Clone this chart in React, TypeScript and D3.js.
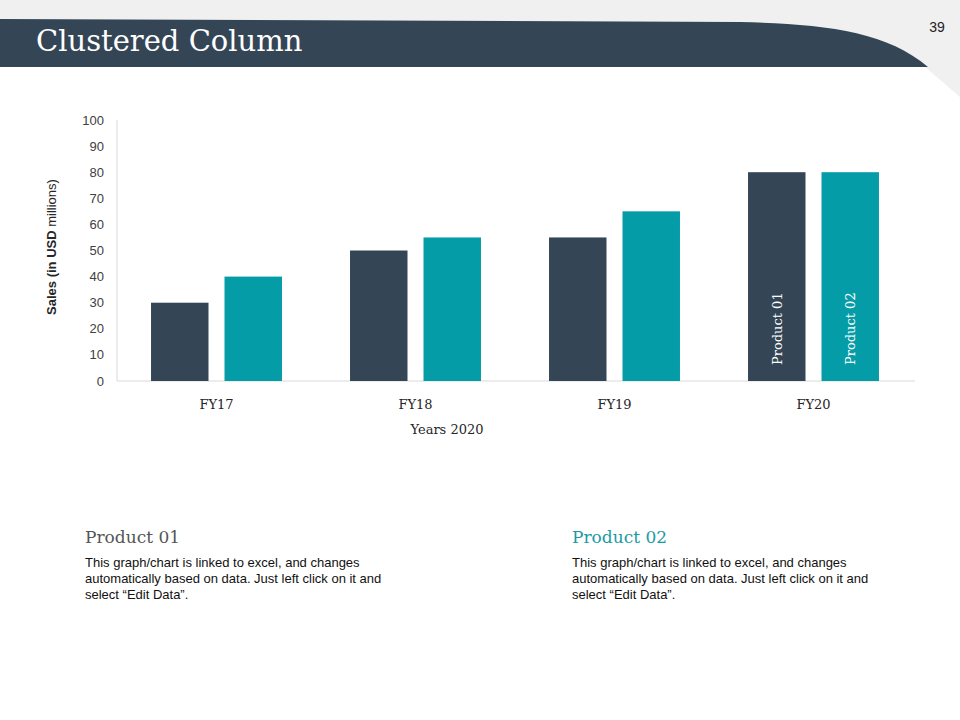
import React from "react";
import * as d3 from "d3";

const categories = ["FY17", "FY18", "FY19", "FY20"];
const seriesNames = ["Product 01", "Product 02"];
const product01 = [30, 50, 55, 80];
const product02 = [40, 55, 65, 80];
const yTicks = [0, 10, 20, 30, 40, 50, 60, 70, 80, 90, 100];
const colors = ["#344556", "#049ca7"];
const bodyLines = [
  "This graph/chart is linked to excel, and changes",
  "automatically based on data. Just left click on it and",
  "select \u201cEdit Data\u201d.",
];

const W = 960;
const H = 720;
const plot = { left: 117, right: 913, top: 120, bottom: 381 };
const serif = "'DejaVu Serif', 'Liberation Serif', serif";
const sans = "'Liberation Sans', Arial, sans-serif";

export default function App() {
  const y = d3.scaleLinear().domain([0, 100]).range([plot.bottom, plot.top]);
  const x0 = d3
    .scaleBand<string>()
    .domain(categories)
    .range([plot.left, plot.right])
    .paddingInner(0.342)
    .paddingOuter(0.171);
  const x1 = d3
    .scaleBand<string>()
    .domain(seriesNames)
    .range([0, x0.bandwidth()])
    .paddingInner(0.218)
    .paddingOuter(0);
  const values = [product01, product02];
  const lastIdx = categories.length - 1;

  const darkPath = "M0,19 L740,22 C820,24 885,30 928,67 L0,67 Z";

  return (
    <svg
      width={W}
      height={H}
      style={{ position: "absolute", left: 0, top: 0, background: "#fff" }}
    >
      {/* header */}
      <path d="M0,0 L960,0 L960,97 L925,67 L0,67 Z" fill="#f0f0f0" />
      <path d={darkPath} fill="#344656" />
      <text x={36} y={51} fill="#fff" fontFamily={serif} fontSize={29}>
        Clustered Column
      </text>
      <text x={937} y={32} fill="#222" fontFamily={sans} fontSize={14} textAnchor="middle">
        39
      </text>

      {/* axes */}
      <line x1={plot.left} x2={plot.left} y1={plot.top} y2={plot.bottom} stroke="#d9d9d9" />
      <line x1={plot.left} x2={915} y1={plot.bottom} y2={plot.bottom} stroke="#d9d9d9" />
      {yTicks.map((t) => (
        <text
          key={t}
          x={104}
          y={y(t) + 4.5}
          textAnchor="end"
          fontFamily={sans}
          fontSize={13}
          fill="#404040"
        >
          {t}
        </text>
      ))}
      <text
        transform={`translate(56,247) rotate(-90)`}
        textAnchor="middle"
        fontFamily={sans}
        fontSize={13}
        fill="#262626"
      >
        <tspan fontWeight="bold">Sales (in USD</tspan>
        <tspan> millions)</tspan>
      </text>

      {/* bars */}
      {categories.map((c, i) => (
        <g key={c} transform={`translate(${x0(c)},0)`}>
          {seriesNames.map((s, j) => {
            const v = values[j][i];
            const bx = x1(s) as number;
            return (
              <g key={s}>
                <rect
                  x={bx}
                  y={y(v)}
                  width={x1.bandwidth()}
                  height={y(0) - y(v)}
                  fill={colors[j]}
                />
                {i === lastIdx && (
                  <text
                    transform={`translate(${bx + x1.bandwidth() / 2 + 5},${y(0) - 16}) rotate(-90)`}
                    fill="#fff"
                    fontFamily={serif}
                    fontSize={13}
                  >
                    {s}
                  </text>
                )}
              </g>
            );
          })}
        </g>
      ))}

      {/* x labels */}
      {categories.map((c) => (
        <text
          key={c}
          x={(x0(c) as number) + x0.bandwidth() / 2}
          y={409}
          textAnchor="middle"
          fontFamily={serif}
          fontSize={13}
          fill="#262626"
        >
          {c}
        </text>
      ))}
      <text x={447} y={434} textAnchor="middle" fontFamily={serif} fontSize={13} fill="#262626">
        Years 2020
      </text>

      {/* bottom text blocks */}
      {[85, 572].map((bx, k) => (
        <g key={bx}>
          <text
            x={bx}
            y={543}
            fontFamily={serif}
            fontSize={17}
            fill={k === 0 ? "#555" : "#1a9ba3"}
          >
            {seriesNames[k]}
          </text>
          {bodyLines.map((l, li) => (
            <text key={li} x={bx} y={567 + li * 16} fontFamily={sans} fontSize={13} fill="#111">
              {l}
            </text>
          ))}
        </g>
      ))}
    </svg>
  );
}
